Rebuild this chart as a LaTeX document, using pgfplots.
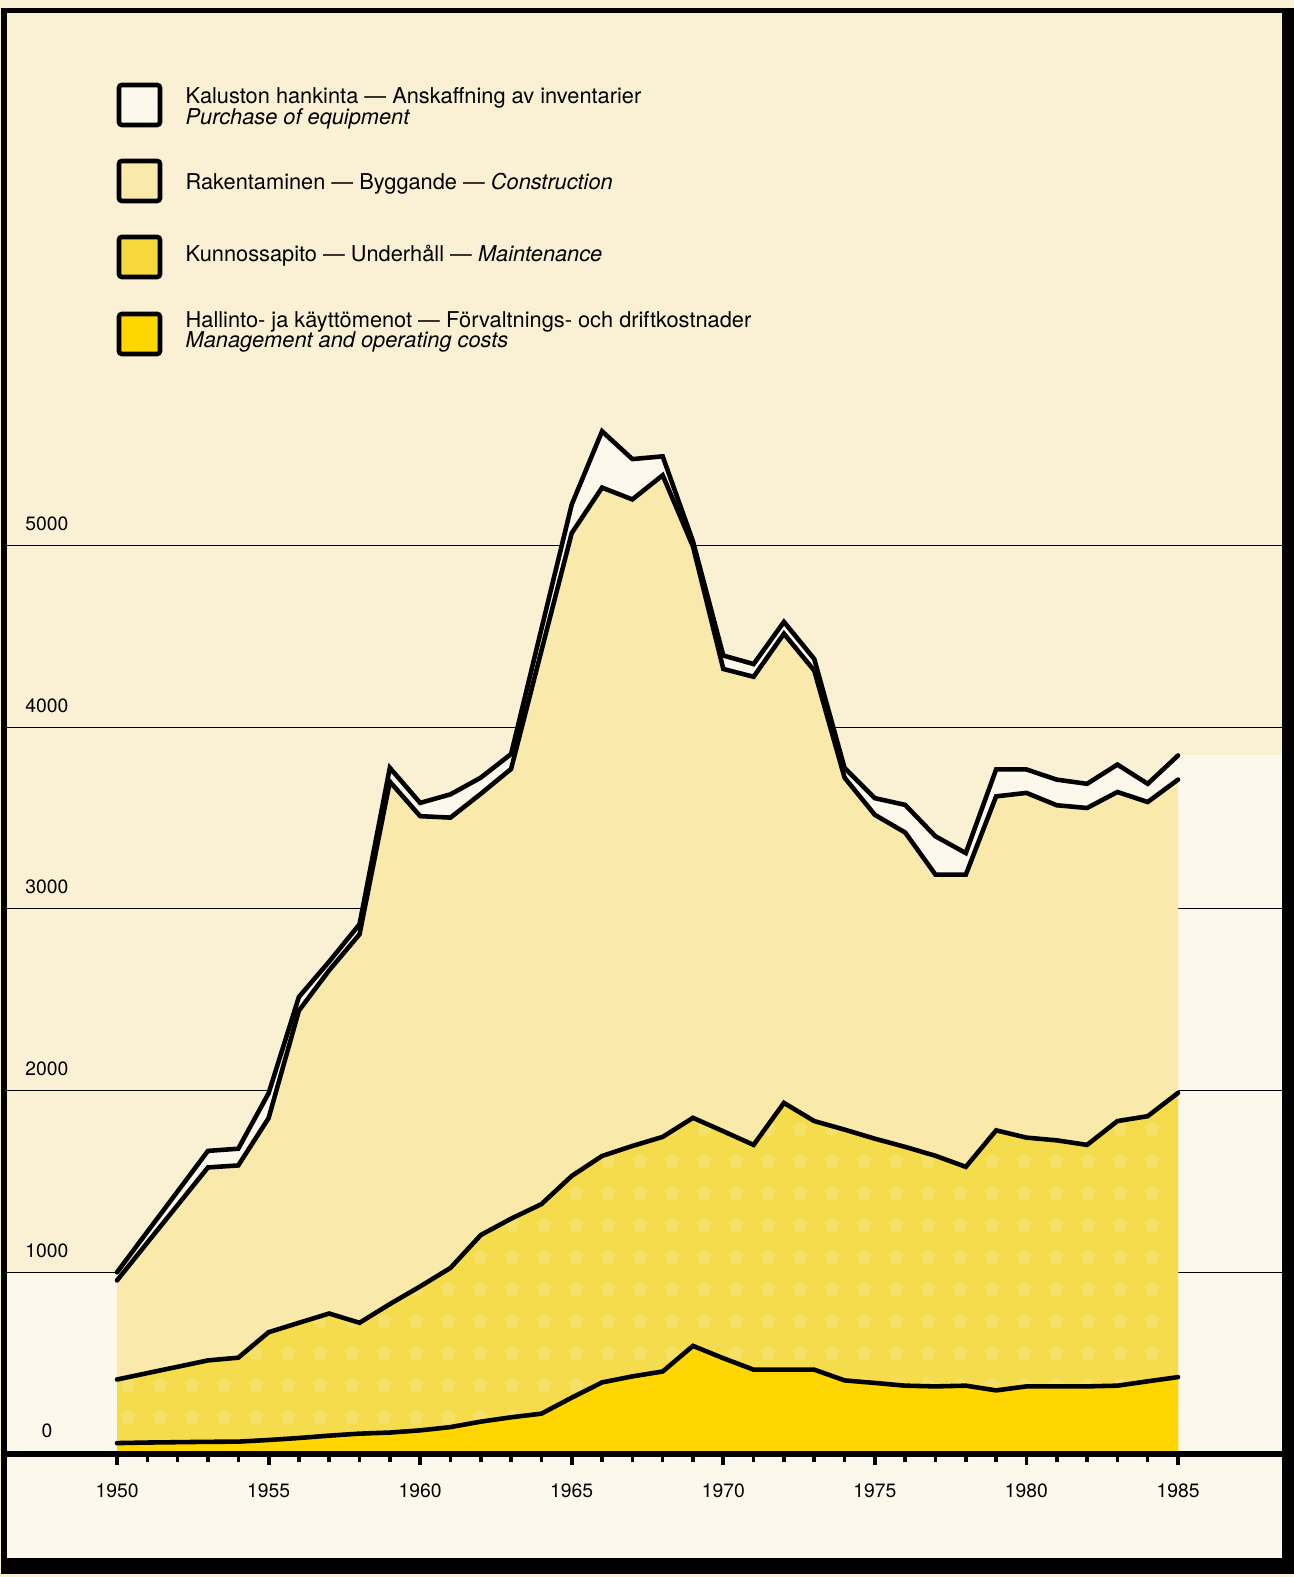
\documentclass[border=0pt]{standalone}
\usepackage{fontspec}
\setmainfont{TeX Gyre Heros}
\usepackage{pgfplots}
\pgfplotsset{compat=1.18}
\usepackage{pgfplotstable}
\usetikzlibrary{patterns.meta}

\definecolor{paper}{HTML}{FAF1D4}
\definecolor{equip}{HTML}{FDF8EC}
\definecolor{constr}{HTML}{F9E9AA}
\definecolor{maint}{HTML}{F4DC4C}
\definecolor{maintdot}{HTML}{F6E168}
\definecolor{maintkey}{HTML}{F7D83C}
\definecolor{admin}{HTML}{FFD600}

% cumulative tops of the stacked layers (million mk)
\pgfplotstableread{
year total constr maint admin
1950 1000  955  410  60
1951 1223 1163  445  63
1952 1445 1370  480  65
1953 1668 1577  515  67
1954 1680 1588  530  68
1955 1985 1848  670  77
1956 2515 2440  722  88
1957 2710 2662  773 101
1958 2915 2860  722 112
1959 3776 3700  825 118
1960 3583 3510  922 130
1961 3630 3502 1024 148
1962 3722 3633 1205 178
1963 3852 3770 1295 202
1964 4540 4420 1375 222
1965 5225 5068 1530 310
1966 5628 5318 1640 394
1967 5475 5253 1695 427
1968 5490 5386 1745 454
1969 5022 4994 1850 595
1970 4394 4320 1776 527
1971 4347 4277 1701 464
1972 4579 4514 1932 464
1973 4375 4311 1832 464
1974 3775 3722 1785 405
1975 3609 3517 1735 391
1976 3572 3420 1690 376
1977 3399 3188 1641 372
1978 3307 3188 1580 376
1979 3767 3619 1781 350
1980 3767 3638 1741 372
1981 3711 3570 1726 372
1982 3688 3555 1701 372
1983 3794 3643 1832 376
1984 3688 3588 1859 400
1985 3844 3711 1987 423
}\costs

\newcommand{\numfont}{\fontsize{5.5}{6.5}\selectfont}
\newcommand{\legfont}{\fontsize{6.2}{7.4}\selectfont}

\begin{document}
\begin{tikzpicture}[x=1cm,y=1cm]
\useasboundingbox (0,0) rectangle (12.94,15.77);
\fill[paper] (0,0) rectangle (12.94,15.77);
\fill[equip] (0.07,0.19) rectangle (12.82,1.23);

\begin{axis}[
    at={(0.07cm,1.23cm)}, anchor=south west,
    scale only axis, width=12.75cm, height=14.41cm,
    xmin=1946.371, xmax=1988.431, ymin=0, ymax=7930,
    axis line style={draw=none},
    ytick=\empty,
    xtick={1950,1955,1960,1965,1970,1975,1980,1985},
    xticklabels={1950,1955,1960,1965,1970,1975,1980,1985},
    minor x tick num=4,
    xtick pos=bottom,
    tick align=outside,
    major tick length=0.11cm, minor tick length=0.08cm,
    major tick style={black, line width=1.1pt},
    minor tick style={black, line width=1pt},
    xticklabel style={font=\numfont, anchor=base, yshift=-0.33cm},
  ]
  % paler paper beside the ends of the curves
  \addplot[fill=equip, draw=none] coordinates {(1946.371,1000) (1950,1000)} \closedcycle;
  \addplot[fill=equip, draw=none] coordinates {(1985,3844) (1988.431,3844)} \closedcycle;
  % grid lines
  \addplot[black, line width=0.35pt] coordinates {(1946.371,1000) (1988.431,1000)};
  \addplot[black, line width=0.35pt] coordinates {(1946.371,2000) (1988.431,2000)};
  \addplot[black, line width=0.35pt] coordinates {(1946.371,3000) (1988.431,3000)};
  \addplot[black, line width=0.35pt] coordinates {(1946.371,4000) (1988.431,4000)};
  \addplot[black, line width=0.35pt] coordinates {(1946.371,5000) (1988.431,5000)};
  % layers
  \addplot[fill=equip, draw=none] table[x=year, y=total] {\costs} \closedcycle;
  \addplot[fill=constr, draw=none] table[x=year, y=constr] {\costs} \closedcycle;
  \addplot[fill=maint, draw=none] table[x=year, y=maint] {\costs} \closedcycle;
  \addplot[draw=none, pattern={Dots[distance=3.2mm, radius=0.7mm]}, pattern color=maintdot]
    table[x=year, y=maint] {\costs} \closedcycle;
  \addplot[fill=admin, draw=none] table[x=year, y=admin] {\costs} \closedcycle;
  % outlines
  \addplot[black, line width=1.3pt, line cap=round] table[x=year, y=total] {\costs};
  \addplot[black, line width=1.3pt, line cap=round] table[x=year, y=constr] {\costs};
  \addplot[black, line width=1.3pt, line cap=round] table[x=year, y=maint] {\costs};
  \addplot[black, line width=1.3pt, line cap=round] table[x=year, y=admin] {\costs};
  % y labels
  \node[font=\numfont, anchor=base, yshift=0.16cm] at (axis cs:1947.69,0) {0};
  \node[font=\numfont, anchor=base, yshift=0.15cm] at (axis cs:1947.69,1000) {1000};
  \node[font=\numfont, anchor=base, yshift=0.15cm] at (axis cs:1947.69,2000) {2000};
  \node[font=\numfont, anchor=base, yshift=0.15cm] at (axis cs:1947.69,3000) {3000};
  \node[font=\numfont, anchor=base, yshift=0.15cm] at (axis cs:1947.69,4000) {4000};
  \node[font=\numfont, anchor=base, yshift=0.15cm] at (axis cs:1947.69,5000) {5000};
\end{axis}

% frame and x axis
\fill[black] (0.07,1.20) rectangle (12.82,1.26);
\fill[black] (0.01,15.64) rectangle (12.94,15.69);
\fill[black] (0.01,0.03) rectangle (0.07,15.69);
\fill[black] (12.82,0.03) rectangle (12.94,15.69);
\fill[black] (0.01,0.03) rectangle (12.94,0.19);

% legend
\begin{scope}[line width=1.3pt, rounded corners=0.8pt]
  \draw[fill=equip] (1.19,14.52) rectangle (1.60,14.92);
  \draw[fill=constr] (1.19,13.76) rectangle (1.60,14.16);
  \draw[fill=maintkey] (1.19,13.00) rectangle (1.60,13.40);
  \draw[fill=admin] (1.19,12.23) rectangle (1.60,12.63);
\end{scope}
\begin{scope}[every node/.style={anchor=base west, inner sep=0pt, font=\legfont}]
  \node at (1.85,14.73) {Kaluston hankinta — Anskaffning av inventarier};
  \node at (1.85,14.52) {\itshape Purchase of equipment};
  \node at (1.85,13.87) {Rakentaminen — Byggande — \itshape Construction};
  \node at (1.85,13.15) {Kunnossapito — Underhåll — \itshape Maintenance};
  \node at (1.85,12.49) {Hallinto- ja käyttömenot — Förvaltnings- och driftkostnader};
  \node at (1.85,12.29) {\itshape Management and operating costs};
\end{scope}
\end{tikzpicture}
\end{document}
